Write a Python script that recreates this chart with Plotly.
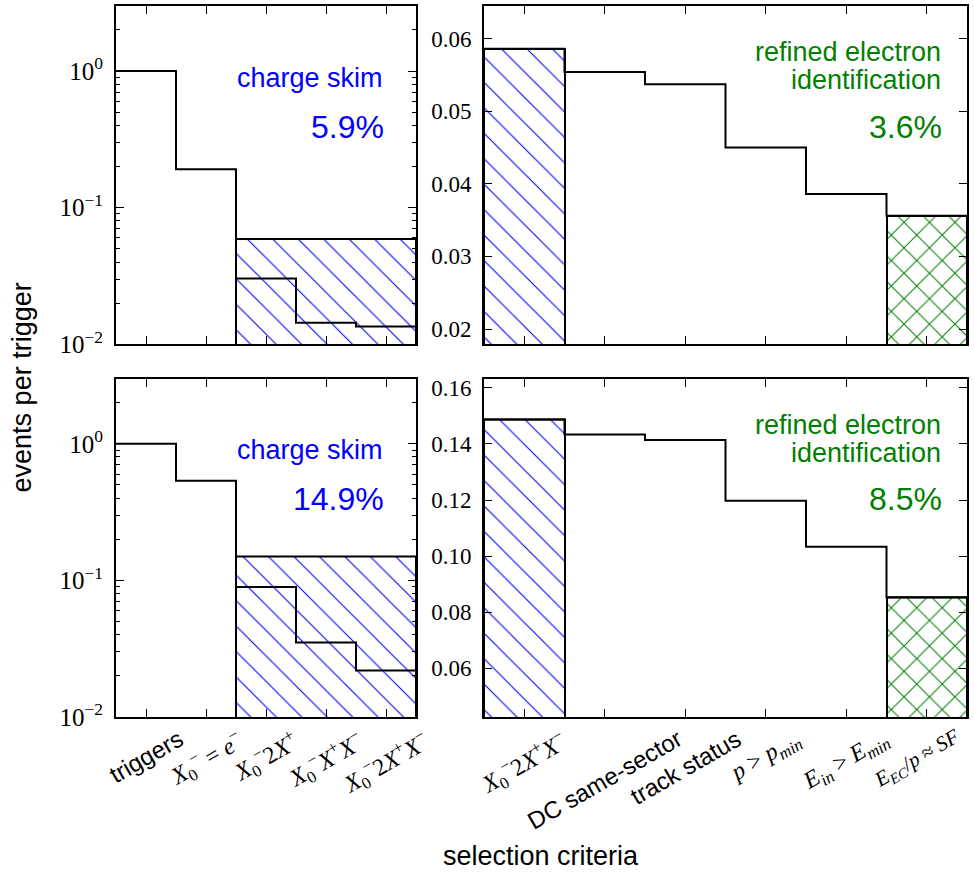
import plotly.graph_objects as go
from plotly.subplots import make_subplots

# ---------------- data ----------------
left_cats = ["triggers", "X0=e", "X0 2X+", "X0 X+X-", "X0 2X+X-"]
right_cats = ["X0 2X+X-", "DC same-sector", "track status", "p>pmin", "Ein>Emin", "EEC/p~SF"]

left_labels = [
    "triggers",
    "<i>X</i><sub>0</sub><sup>−</sup> = <i>e</i><sup>−</sup>",
    "<i>X</i><sub>0</sub><sup>−</sup>2<i>X</i><sup>+</sup>",
    "<i>X</i><sub>0</sub><sup>−</sup><i>X</i><sup>+</sup><i>X</i><sup>−</sup>",
    "<i>X</i><sub>0</sub><sup>−</sup>2<i>X</i><sup>+</sup><i>X</i><sup>−</sup>",
]
right_labels = [
    "<i>X</i><sub>0</sub><sup>−</sup>2<i>X</i><sup>+</sup><i>X</i><sup>−</sup>",
    "DC same-sector",
    "track status",
    "<i>p</i> > <i>p</i><sub><i>min</i></sub>",
    "<i>E</i><sub><i>in</i></sub> > <i>E</i><sub><i>min</i></sub>",
    "<i>E</i><sub><i>EC</i></sub>/<i>p</i> ≈ <i>SF</i>",
]
label_is_text = {"triggers", "DC same-sector", "track status"}

top_left_vals = [1.0, 0.191, 0.0303, 0.0144, 0.0135]
top_left_skim = 0.0589
top_right_vals = [0.0586, 0.0554, 0.0537, 0.0450, 0.0386, 0.0356]

bot_left_vals = [1.0, 0.535, 0.0895, 0.035, 0.0219]
bot_left_skim = 0.149
bot_right_vals = [0.1487, 0.1434, 0.1414, 0.1198, 0.1034, 0.0854]

pct_texts = {"tl": "5.9%", "tr": "3.6%", "bl": "14.9%", "br": "8.5%"}

log_major = [0.01, 0.1, 1]
log_major_text = ["10<sup>−2</sup>", "10<sup>−1</sup>", "10<sup>0</sup>"]
log_minor = [0.02, 0.03, 0.04, 0.05, 0.06, 0.07, 0.08, 0.09,
             0.2, 0.3, 0.4, 0.5, 0.6, 0.7, 0.8, 0.9, 2, 3]

BLUE = "#0000ff"
GREEN = "#008000"
W, H = 974, 880


def px(x):
    return x / W


def py(y):
    return 1 - y / H


fig = make_subplots(rows=2, cols=2)

LX = [px(116), px(416)]
RX = [px(484), px(967)]
TY = [py(348), py(3)]
BY = [py(728), py(383)]


def step(vals, row, col):
    edges = [i - 0.5 for i in range(len(vals) + 1)]
    fig.add_trace(go.Scatter(x=edges, y=list(vals) + [vals[-1]], mode="lines",
                             line=dict(shape="hv", color="black", width=2),
                             showlegend=False, hoverinfo="skip"), row=row, col=col)


def hatch_bar(xc, width, val, shape, color, solidity, row, col):
    fig.add_trace(go.Bar(x=[xc], y=[val], width=[width],
                         marker=dict(color="white", line=dict(color="black", width=2),
                                     pattern=dict(shape=shape, fgcolor=color, bgcolor="white",
                                                  fgopacity=1, size=18, solidity=solidity)),
                         showlegend=False, hoverinfo="skip"), row=row, col=col)


# top-left
hatch_bar(3, 3, top_left_skim, "\\", BLUE, 0.06, 1, 1)
step(top_left_vals, 1, 1)
# top-right
hatch_bar(0, 1, top_right_vals[0], "\\", BLUE, 0.06, 1, 2)
hatch_bar(5, 1, top_right_vals[5], "x", GREEN, 0.11, 1, 2)
step(top_right_vals, 1, 2)
# bottom-left
hatch_bar(3, 3, bot_left_skim, "\\", BLUE, 0.06, 2, 1)
step(bot_left_vals, 2, 1)
# bottom-right
hatch_bar(0, 1, bot_right_vals[0], "\\", BLUE, 0.06, 2, 2)
hatch_bar(5, 1, bot_right_vals[5], "x", GREEN, 0.11, 2, 2)
step(bot_right_vals, 2, 2)

axis_common = dict(showline=True, linecolor="black", linewidth=2, mirror="ticks",
                   ticks="inside", ticklen=8, tickwidth=1, tickcolor="black",
                   showgrid=False, zeroline=False)
tickfont = dict(family="Liberation Serif", size=23, color="black")
logfont = dict(family="Liberation Serif", size=25, color="black")

fig.update_layout(
    xaxis=dict(domain=LX, range=[-0.5, 4.5], tickvals=list(range(5)), showticklabels=False, **axis_common),
    xaxis2=dict(domain=RX, range=[-0.5, 5.5], tickvals=list(range(6)), showticklabels=False, **axis_common),
    xaxis3=dict(domain=LX, range=[-0.5, 4.5], tickvals=list(range(5)), showticklabels=False, **axis_common),
    xaxis4=dict(domain=RX, range=[-0.5, 5.5], tickvals=list(range(6)), showticklabels=False, **axis_common),
    yaxis=dict(domain=TY, type="log", range=[-2, 0.477], tickmode="array", tickvals=log_major,
               ticktext=log_major_text, tickfont=logfont, ticklabelstandoff=6,
               minor=dict(ticks="inside", ticklen=4, tickwidth=1, tickcolor="black",
                          tickvals=log_minor, showgrid=False), **axis_common),
    yaxis3=dict(domain=BY, type="log", range=[-2, 0.477], tickmode="array", tickvals=log_major,
                ticktext=log_major_text, tickfont=logfont, ticklabelstandoff=6,
                minor=dict(ticks="inside", ticklen=4, tickwidth=1, tickcolor="black",
                           tickvals=log_minor, showgrid=False), **axis_common),
    yaxis2=dict(domain=TY, range=[0.0179, 0.0645], tick0=0, dtick=0.01, tickformat=".2f",
                tickfont=tickfont, ticklabelstandoff=6, **axis_common),
    yaxis4=dict(domain=BY, range=[0.0427, 0.1633], tick0=0, dtick=0.02, tickformat=".2f",
                tickfont=tickfont, ticklabelstandoff=6, **axis_common),
    width=W, height=H, margin=dict(l=0, r=0, t=0, b=0),
    paper_bgcolor="white", plot_bgcolor="white", bargap=0,
)

ann = []
SANS = "Liberation Sans"
SERIF = "Liberation Serif"

# tick labels as rotated annotations
for xref, labels in (("x3", left_labels), ("x4", right_labels)):
    for i, lab in enumerate(labels):
        fam = SANS if lab in label_is_text else SERIF
        size = 24
        xpos = i
        if xref == "x4" and i == len(labels) - 1:
            size = 21
            xpos = i - 0.12
        ann.append(dict(x=xpos, xref=xref, y=py(733), yref="paper", text=lab, showarrow=False,
                        textangle=-30, xanchor="center", yanchor="top",
                        font=dict(family=fam, size=size, color="black")))

# panel texts
for (ytop, key_l, key_r) in ((3, "tl", "tr"), (383, "bl", "br")):
    ann.append(dict(x=px(385), y=py(ytop + 73), xref="paper", yref="paper", text="charge skim",
                    showarrow=False, xanchor="right", yanchor="middle",
                    font=dict(family=SANS, size=27, color=BLUE)))
    ann.append(dict(x=px(386), y=py(ytop + 123), xref="paper", yref="paper", text=pct_texts[key_l],
                    showarrow=False, xanchor="right", yanchor="middle",
                    font=dict(family=SANS, size=32, color=BLUE)))
    ann.append(dict(x=px(943), y=py(ytop + 47), xref="paper", yref="paper", text="refined electron",
                    showarrow=False, xanchor="right", yanchor="middle",
                    font=dict(family=SANS, size=27, color=GREEN)))
    ann.append(dict(x=px(943), y=py(ytop + 76), xref="paper", yref="paper", text="identification",
                    showarrow=False, xanchor="right", yanchor="middle",
                    font=dict(family=SANS, size=27, color=GREEN)))
    ann.append(dict(x=px(944), y=py(ytop + 123), xref="paper", yref="paper", text=pct_texts[key_r],
                    showarrow=False, xanchor="right", yanchor="middle",
                    font=dict(family=SANS, size=32, color=GREEN)))

# axis titles
ann.append(dict(x=px(541), y=py(870), xref="paper", yref="paper", text="selection criteria",
                showarrow=False, xanchor="center", yanchor="middle",
                font=dict(family=SANS, size=27, color="black")))
ann.append(dict(x=px(22), y=py(392), xref="paper", yref="paper", text="events per trigger",
                showarrow=False, xanchor="center", yanchor="middle", textangle=-90,
                font=dict(family=SANS, size=27, color="black")))

fig.update_layout(annotations=ann)
fig.write_html("out.html")
